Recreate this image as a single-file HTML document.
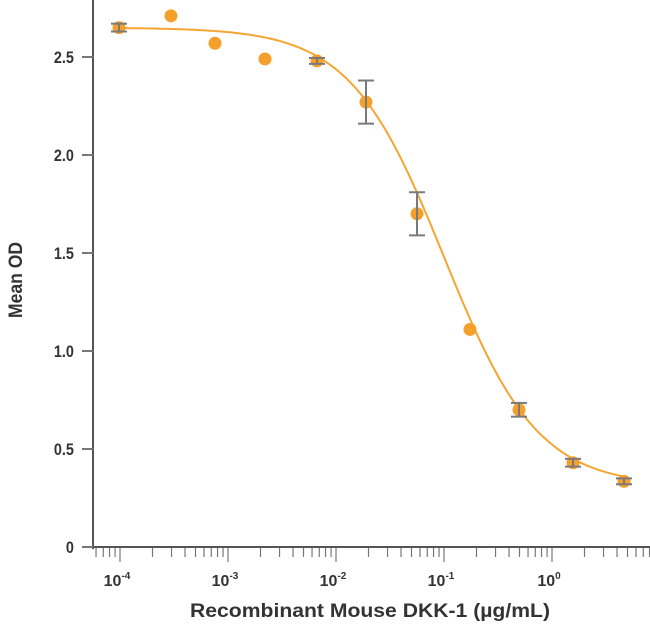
<!DOCTYPE html>
<html><head><style>body{margin:0;background:#fff}svg{display:block}text{font-family:"Liberation Sans",sans-serif;fill:#333}</style></head>
<body>
<svg id="s" width="650" height="627" viewBox="0 0 650 627">
<line x1="93" y1="0" x2="93" y2="549" stroke="#555" stroke-width="2"/>
<line x1="92" y1="547" x2="650" y2="547" stroke="#555" stroke-width="2"/>
<g id="ticks" stroke="#777" stroke-width="1.2"></g>
<g font-size="17" text-anchor="end" font-weight="bold" transform="scale(0.85,1)">
<text x="87" y="553">0</text>
<text x="87" y="455">0.5</text>
<text x="87" y="357">1.0</text>
<text x="87" y="259">1.5</text>
<text x="87" y="161">2.0</text>
<text x="87" y="63">2.5</text>
</g>
<g stroke="#777" stroke-width="2">
<line x1="82" y1="547" x2="93" y2="547"/><line x1="82" y1="449" x2="93" y2="449"/><line x1="82" y1="351" x2="93" y2="351"/><line x1="82" y1="253" x2="93" y2="253"/><line x1="82" y1="155" x2="93" y2="155"/><line x1="82" y1="57" x2="93" y2="57"/>
</g>
<g font-size="16" font-weight="bold" text-anchor="middle">
<text x="117" y="586">10<tspan font-size="10" dy="-7">-4</tspan></text>
<text x="225" y="586">10<tspan font-size="10" dy="-7">-3</tspan></text>
<text x="333" y="586">10<tspan font-size="10" dy="-7">-2</tspan></text>
<text x="441" y="586">10<tspan font-size="10" dy="-7">-1</tspan></text>
<text x="549" y="586">10<tspan font-size="10" dy="-7">0</tspan></text>
</g>
<text x="370" y="617" font-size="19" font-weight="bold" text-anchor="middle" textLength="360" lengthAdjust="spacingAndGlyphs">Recombinant Mouse DKK-1 (µg/mL)</text>
<text transform="translate(22,280) rotate(-90)" font-size="19" font-weight="bold" text-anchor="middle" textLength="76" lengthAdjust="spacingAndGlyphs">Mean OD</text>
<path id="curve" fill="none" stroke="#f5a533" stroke-width="2"/>
<g id="pts"></g>
</svg>
<script>
var X=function(c){return 552+Math.log10(c)*108},Y=function(v){return 547-v*196};
var t=document.getElementById('ticks'),h='';
for(var d=-5;d<=1;d++)for(var m=1;m<10;m++){var x=X(m*Math.pow(10,d));if(x<96||x>650)continue;var L=m==1?14:9;h+='<line x1="'+x+'" y1="548" x2="'+x+'" y2="'+(548+L)+'"/>';}
t.innerHTML=h;
var f=function(c){return 0.31+2.34/(1+Math.pow(c/0.1,1.0))},p='';
for(var x=118;x<=626;x+=2){var c=Math.pow(10,(x-552)/108);p+=(p?'L':'M')+x+','+Y(f(c)).toFixed(1);}
document.getElementById('curve').setAttribute('d',p);
var pts=[[119,2.65,.02],[171,2.71,0],[215,2.57,0],[265,2.49,0],[317,2.48,.015],[366,2.27,.11],[417,1.70,.11],[470,1.11,0],[519,0.70,.035],[573,0.43,.02],[624,0.335,.015]],g='';
pts.forEach(function(q){var y=Y(q[1]);g+='<circle cx="'+q[0]+'" cy="'+y+'" r="6.5" fill="#f5a02a"/>';if(q[2]){var a=Y(q[1]+q[2]),b=Y(q[1]-q[2]);g+='<g stroke="#7a7a7a" stroke-width="2"><line x1="'+q[0]+'" y1="'+a+'" x2="'+q[0]+'" y2="'+b+'"/><line x1="'+(q[0]-8)+'" y1="'+a+'" x2="'+(q[0]+8)+'" y2="'+a+'"/><line x1="'+(q[0]-8)+'" y1="'+b+'" x2="'+(q[0]+8)+'" y2="'+b+'"/></g>';}});
document.getElementById('pts').innerHTML=g;
</script>
</body></html>
